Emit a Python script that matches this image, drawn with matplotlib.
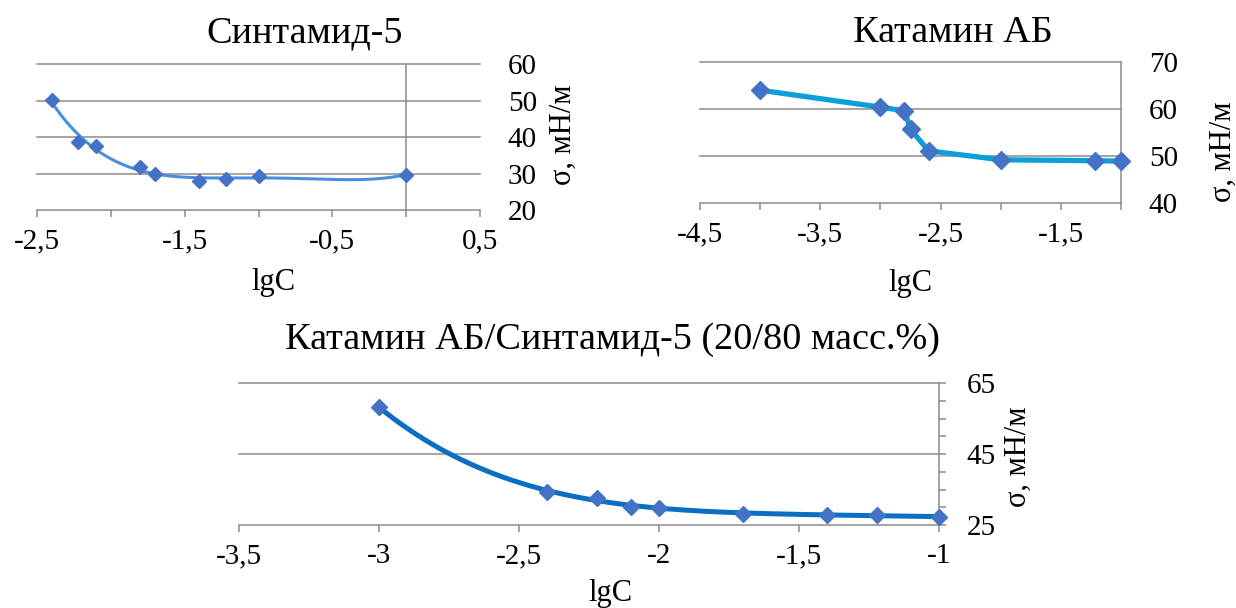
import numpy as np
import matplotlib
matplotlib.use("Agg")
import matplotlib.pyplot as plt
from matplotlib.ticker import FixedLocator, MultipleLocator

plt.rcParams['font.family'] = ['Liberation Serif', 'DejaVu Serif']

# Синтамид-5
s5_lgc = [-2.4, -2.22, -2.1, -1.8, -1.7, -1.4, -1.22, -1.0, 0.0]
s5_sigma = [50.2, 38.6, 37.5, 31.9, 29.8, 28.0, 28.6, 29.2, 29.7]

# Катамин АБ
ka_lgc = [-4.0, -3.0, -2.8, -2.75, -2.6, -2.0, -1.22, -1.0]
ka_sigma = [64.0, 60.4, 59.6, 55.7, 51.1, 49.2, 49.0, 48.9]

# смесь 20/80
mix_lgc = [-3.0, -2.4, -2.22, -2.1, -2.0, -1.7, -1.4, -1.22, -1.0]
mix_sigma = [58.2, 34.4, 32.5, 30.2, 29.9, 28.2, 27.8, 27.8, 27.3]

titles = ['Синтамид-5', 'Катамин АБ', 'Катамин АБ/Синтамид-5 (20/80 масс.%)']
ylabel = 'σ, мН/м'
xlabel = 'lgC'

W, H = 1236, 608
GREY = '#8c8c8c'
MARK = '#4472C4'


def box(l, t, r, b):  # пиксели -> доли фигуры
    return [l / W, 1 - b / H, (r - l) / W, (b - t) / H]


def fx(x):
    return x / W


def fy(y):
    return 1 - y / H


def label(v):
    return ('%g' % v).replace('.', ',')


def base(ax, xlim, ylim, xt, xlab, yt):
    ax.set_xlim(*xlim)
    ax.set_ylim(*ylim)
    for sp in ax.spines.values():
        sp.set_visible(False)
    ax.spines['bottom'].set_visible(True)
    ax.spines['bottom'].set_color(GREY)
    ax.spines['bottom'].set_linewidth(1.1)
    ax.xaxis.set_major_locator(FixedLocator(xt))
    ax.set_xticklabels([label(v) if v in xlab else '' for v in xt])
    ax.tick_params(axis='x', direction='out', length=5, width=1.1, color=GREY,
                   labelsize=21, pad=8)
    ax.yaxis.tick_right()
    ax.yaxis.set_major_locator(FixedLocator(yt))
    ax.set_yticklabels([label(v) for v in yt])
    ax.tick_params(axis='y', length=0, labelsize=21, pad=20)
    for v in yt[1:]:
        ax.axhline(v, color=GREY, lw=1.1, zorder=1, clip_on=False)
    ax.set_facecolor('none')


fig = plt.figure(figsize=(12.36, 6.08), dpi=100)

# --- панель 1 (линия тренда, полином 4-й степени)
ax1 = fig.add_axes(box(37, 64, 480, 210))
base(ax1, (-2.5, 0.5), (20, 60), [-2.5, -2.0, -1.5, -1.0, -0.5, 0.0, 0.5],
     [-2.5, -1.5, -0.5, 0.5], [20, 30, 40, 50, 60])
ax1.axvline(0, color=GREY, lw=1.1, zorder=1)
c1 = np.polyfit(s5_lgc, s5_sigma, 4)
xx = np.linspace(min(s5_lgc), max(s5_lgc), 300)
ax1.plot(xx, np.polyval(c1, xx), color='#4A8FDD', lw=2.2, zorder=2)
ax1.plot(s5_lgc, s5_sigma, 'D', color=MARK, ms=6.8, zorder=3, clip_on=False)

# --- панель 2
ax2 = fig.add_axes(box(700, 62, 1121, 203))
base(ax2, (-4.5, -1.0), (40, 70), list(np.arange(-4.5, -0.99, 0.5)),
     [-4.5, -3.5, -2.5, -1.5], [40, 50, 60, 70])
ax2.spines['right'].set_visible(True)
ax2.spines['right'].set_color(GREY)
ax2.spines['right'].set_linewidth(1.1)
ax2.plot(ka_lgc, ka_sigma, color='#0BA0DA', lw=3.8, zorder=2, clip_on=False)
ax2.plot(ka_lgc, ka_sigma, 'D', color=MARK, ms=9.5, zorder=3, clip_on=False)

# --- панель 3
ax3 = fig.add_axes(box(239, 383, 939, 525))
base(ax3, (-3.5, -1.0), (25, 65), list(np.arange(-3.5, -0.99, 0.5)),
     list(np.arange(-3.5, -0.99, 0.5)), [25, 45, 65])
ax3.spines['right'].set_visible(True)
ax3.spines['right'].set_color(GREY)
ax3.spines['right'].set_linewidth(1.1)
ax3.yaxis.set_minor_locator(MultipleLocator(5))
ax3.tick_params(axis='y', which='both', direction='out', length=5, width=1.1,
                color=GREY, pad=15)
c3 = np.polyfit(mix_lgc, mix_sigma, 4)
xx3 = np.linspace(min(mix_lgc), max(mix_lgc), 300)
ax3.plot(xx3, np.polyval(c3, xx3), color='#0A6EC2', lw=3.6, zorder=2, clip_on=False)
ax3.plot(mix_lgc, mix_sigma, 'D', color=MARK, ms=8.5, zorder=3, clip_on=False)

# подписи
fig.text(fx(305), fy(33), titles[0], fontsize=27.5, ha='center', va='center')
fig.text(fx(953), fy(33), titles[1], fontsize=27.5, ha='center', va='center')
fig.text(fx(612), fy(340), titles[2], fontsize=27.5, ha='center', va='center')

fig.text(fx(273), fy(282), xlabel, fontsize=22, ha='center', va='center')
fig.text(fx(910), fy(283), xlabel, fontsize=22, ha='center', va='center')
fig.text(fx(610), fy(593), xlabel, fontsize=22, ha='center', va='center')

fig.text(fx(563), fy(135), ylabel, fontsize=22, ha='center', va='center', rotation=90)
fig.text(fx(1223), fy(152), ylabel, fontsize=22, ha='center', va='center', rotation=90)
fig.text(fx(1018), fy(457), ylabel, fontsize=22, ha='center', va='center', rotation=90)

fig.savefig('out.png', dpi=100)
